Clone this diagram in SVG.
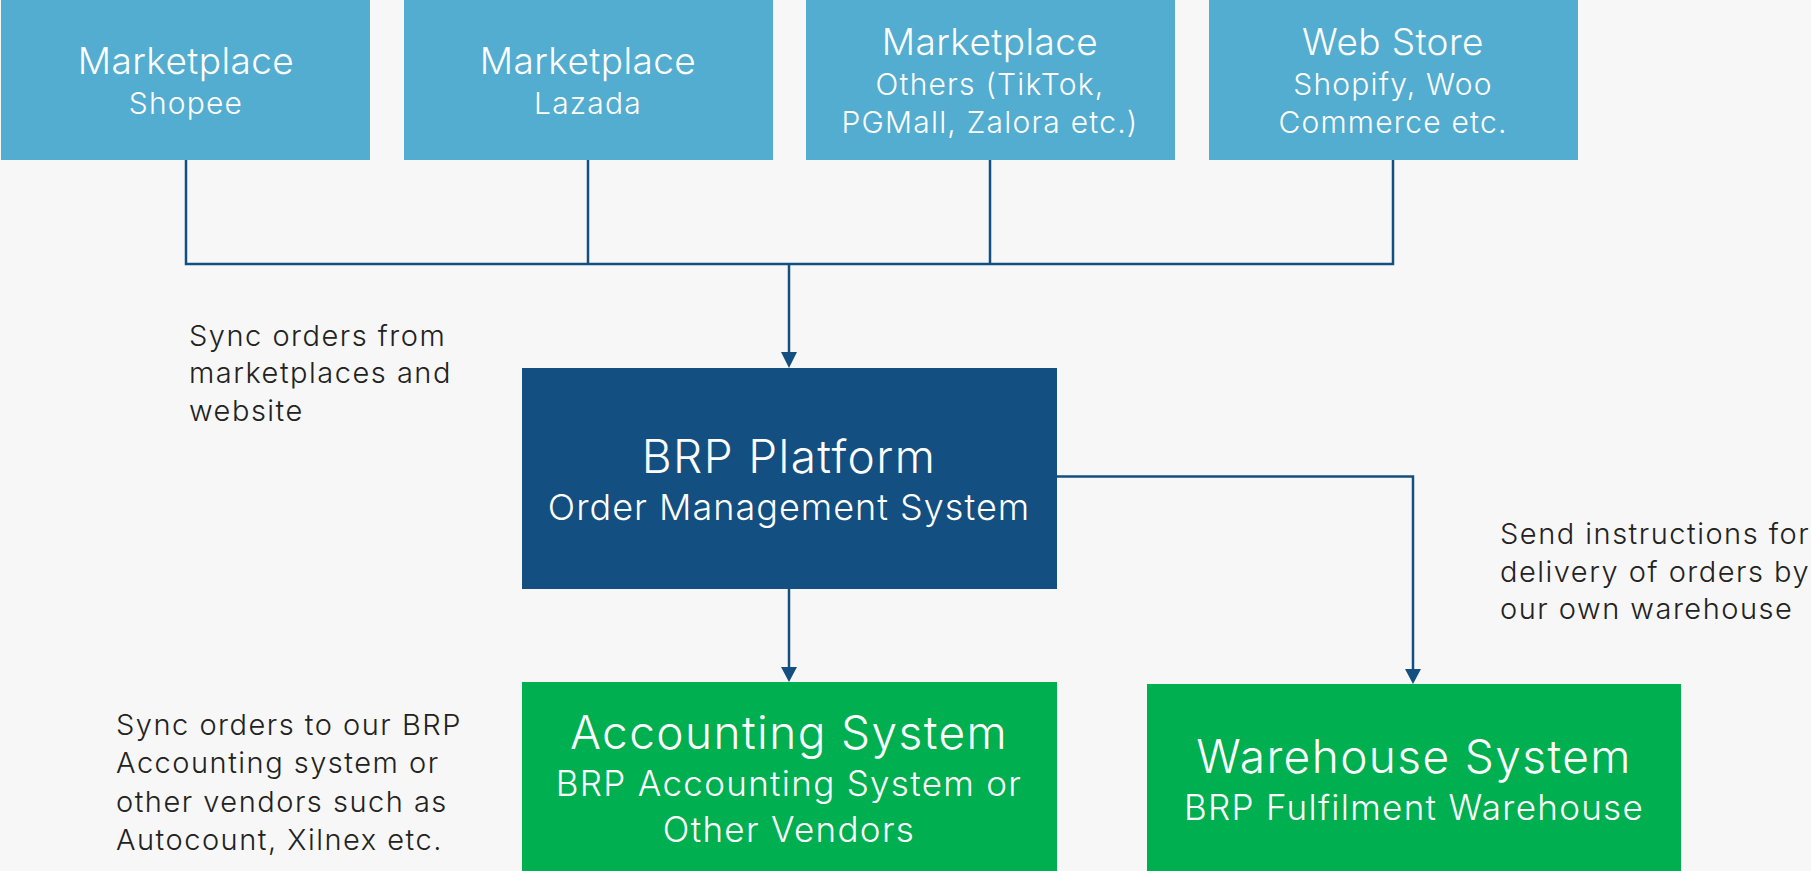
<svg xmlns="http://www.w3.org/2000/svg" width="1811" height="871" viewBox="0 0 1811 871">
<style>
text{font-family:Inter,"Noto Sans","Liberation Sans",sans-serif;font-weight:300}
.src rect{fill:#52ADD0}
.t1{font-size:37px;fill:#fff;text-anchor:middle;letter-spacing:0.4px}
.t2{font-size:30px;fill:#fff;text-anchor:middle;letter-spacing:1.2px}
.big{font-size:46px;fill:#fff;text-anchor:middle;letter-spacing:1.4px}
.sub{font-size:35px;fill:#fff;text-anchor:middle;letter-spacing:1.3px}
.lbl{font-size:29px;fill:#222;letter-spacing:1.5px}
.conn{fill:none;stroke:#134F80;stroke-width:2.5}
.ah{fill:#134F80}
</style>
<rect width="1811" height="871" fill="#F7F7F7"/>
<g id="connectors">
<path class="conn" d="M186 160V264H1393V160M588 160V264M990 160V264M789 264V354"/>
<polygon class="ah" points="781,352 797,352 789,368"/>
<path class="conn" d="M789 589V668"/>
<polygon class="ah" points="781,667 797,667 789,682"/>
<path class="conn" d="M1057 476.5H1413V670"/>
<polygon class="ah" points="1405,669 1421,669 1413,684"/>
</g>
<g id="shopee" class="src"><rect x="1" y="0" width="369" height="160"/><text class="t1" x="186" y="74">Marketplace</text><text class="t2" x="186" y="114">Shopee</text></g>
<g id="lazada" class="src"><rect x="404" y="0" width="369" height="160"/><text class="t1" x="588" y="74">Marketplace</text><text class="t2" x="588" y="114">Lazada</text></g>
<g id="others" class="src"><rect x="806" y="0" width="369" height="160"/><text class="t1" x="990" y="55">Marketplace</text><text class="t2" x="990" y="95">Others (TikTok,</text><text class="t2" x="990" y="133">PGMall, Zalora etc.)</text></g>
<g id="webstore" class="src"><rect x="1209" y="0" width="369" height="160"/><text class="t1" x="1393" y="55">Web Store</text><text class="t2" x="1393" y="95">Shopify, Woo</text><text class="t2" x="1393" y="133">Commerce etc.</text></g>
<g id="brp"><rect x="522" y="368" width="535" height="221" fill="#134F80"/><text class="big" x="789" y="473">BRP Platform</text><text class="sub" x="789" y="520" style="font-size:36px;letter-spacing:1px">Order Management System</text></g>
<g id="accounting"><rect x="522" y="682" width="535" height="189" fill="#00AF50"/><text class="big" x="789" y="749">Accounting System</text><text class="sub" x="789" y="796">BRP Accounting System or</text><text class="sub" x="789" y="842">Other Vendors</text></g>
<g id="warehouse"><rect x="1147" y="684" width="534" height="187" fill="#00AF50"/><text class="big" x="1414" y="773">Warehouse System</text><text class="sub" x="1414" y="820">BRP Fulfilment Warehouse</text></g>
<g id="label-sync-from"><text class="lbl" x="189" y="346">Sync orders from</text><text class="lbl" x="189" y="383">marketplaces and</text><text class="lbl" x="189" y="421">website</text></g>
<g id="label-sync-to"><text class="lbl" x="116" y="735">Sync orders to our BRP</text><text class="lbl" x="116" y="773">Accounting system or</text><text class="lbl" x="116" y="812">other vendors such as</text><text class="lbl" x="116" y="850">Autocount, Xilnex etc.</text></g>
<g id="label-send"><text class="lbl" x="1500" y="544">Send instructions for</text><text class="lbl" x="1500" y="582">delivery of orders by</text><text class="lbl" x="1500" y="619">our own warehouse</text></g>
</svg>
